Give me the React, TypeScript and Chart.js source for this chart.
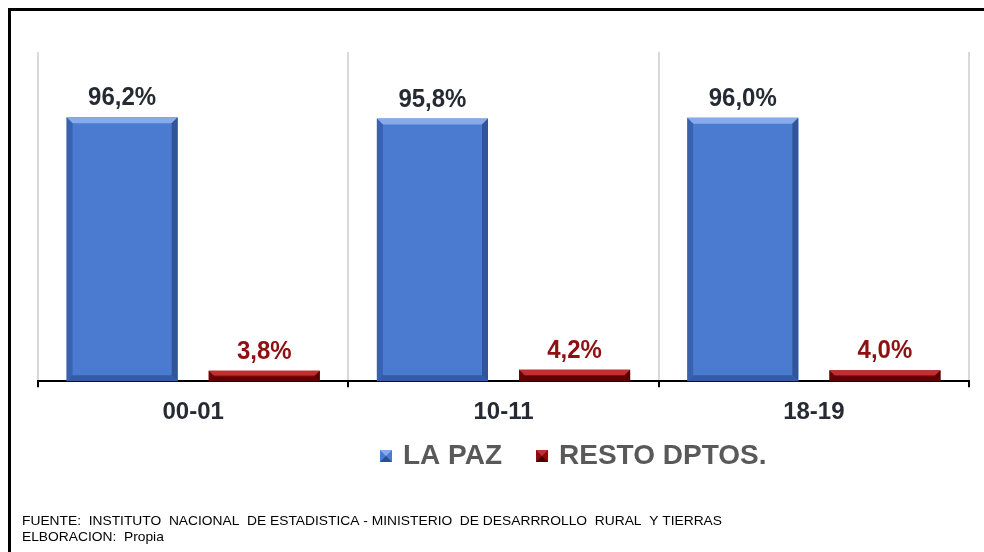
import React, { useEffect, useRef } from "react";
import { Chart, registerables } from "chart.js";

Chart.register(...registerables);

const categories = ["00-01", "10-11", "18-19"];
const laPaz = [96.2, 95.8, 96.0];
const resto = [3.8, 4.2, 4.0];
const seriesNames = ["LA PAZ", "RESTO DPTOS."];
const footerLines = [
  "FUENTE:  INSTITUTO  NACIONAL  DE ESTADISTICA - MINISTERIO  DE DESARRROLLO  RURAL  Y TIERRAS",
  "ELBORACION:  Propia",
];

const palette = [
  { main: "#4a7bd0", light: "#86aaea", dark: "#2b4f92", label: "#262b33" },
  { main: "#8c0a0a", light: "#c03030", dark: "#4a0000", label: "#8e1010" },
];

const bevelPlugin = {
  id: "bevel",
  afterDatasetsDraw(chart: any) {
    const ctx = chart.ctx;
    chart.data.datasets.forEach((ds: any, di: number) => {
      const meta = chart.getDatasetMeta(di);
      const col = palette[di];
      meta.data.forEach((bar: any, idx: number) => {
        const { x, y, base, width } = bar.getProps(["x", "y", "base", "width"], true);
        const l = x - width / 2;
        const r = x + width / 2;
        const t = y;
        const b = base;
        const h = b - t;
        const s = Math.min(6, h / 2.2);
        ctx.save();
        ctx.fillStyle = col.light;
        ctx.beginPath();
        ctx.moveTo(l, t);
        ctx.lineTo(r, t);
        ctx.lineTo(r - s, t + s);
        ctx.lineTo(l + s, t + s);
        ctx.closePath();
        ctx.fill();
        ctx.globalAlpha = 0.55;
        ctx.fillStyle = col.dark;
        ctx.beginPath();
        ctx.moveTo(l, t);
        ctx.lineTo(l + s, t + s);
        ctx.lineTo(l + s, b - s);
        ctx.lineTo(l, b);
        ctx.closePath();
        ctx.fill();
        ctx.globalAlpha = 0.85;
        ctx.beginPath();
        ctx.moveTo(r, t);
        ctx.lineTo(r - s, t + s);
        ctx.lineTo(r - s, b - s);
        ctx.lineTo(r, b);
        ctx.closePath();
        ctx.fill();
        ctx.globalAlpha = 0.7;
        ctx.beginPath();
        ctx.moveTo(l, b);
        ctx.lineTo(l + s, b - s);
        ctx.lineTo(r - s, b - s);
        ctx.lineTo(r, b);
        ctx.closePath();
        ctx.fill();
        ctx.restore();
        const v = ds.data[idx];
        ctx.save();
        ctx.font = 'bold 24px "Liberation Sans", Arial, sans-serif';
        ctx.fillStyle = col.label;
        ctx.textAlign = "center";
        ctx.textBaseline = "middle";
        ctx.translate(x, t - 19);
        ctx.scale(1, 1.08);
        ctx.fillText(Number(v).toFixed(1).replace(".", ",") + "%", 0, 0);
        ctx.restore();
      });
    });
  },
};

const legendFooterPlugin = {
  id: "legendFooter",
  afterDraw(chart: any) {
    const ctx = chart.ctx;
    ctx.save();
    ctx.font = 'bold 28px "Liberation Sans", Arial, sans-serif';
    ctx.textBaseline = "middle";
    ctx.textAlign = "left";
    const cy = 456;
    let x = 380;
    chart.data.datasets.forEach((ds: any, di: number) => {
      const col = palette[di];
      const bs = 12;
      const by = cy - bs / 2;
      ctx.fillStyle = col.main;
      ctx.fillRect(x, by, bs, bs);
      ctx.fillStyle = col.light;
      ctx.beginPath();
      ctx.moveTo(x, by);
      ctx.lineTo(x + bs, by);
      ctx.lineTo(x + bs / 2, by + bs / 2);
      ctx.closePath();
      ctx.fill();
      ctx.fillStyle = col.dark;
      ctx.beginPath();
      ctx.moveTo(x, by + bs);
      ctx.lineTo(x + bs, by + bs);
      ctx.lineTo(x + bs / 2, by + bs / 2);
      ctx.closePath();
      ctx.fill();
      ctx.fillStyle = "#595959";
      const tx = x + 23;
      ctx.fillText(ds.label, tx, cy);
      x = tx + ctx.measureText(ds.label).width + 34;
    });
    ctx.font = '13px "Liberation Sans Narrow", "Arial Narrow", "Liberation Sans", Arial, sans-serif';
    ctx.fillStyle = "#000000";
    ctx.textBaseline = "alphabetic";
    const w0 = ctx.measureText(footerLines[0]).width;
    const sx = 700 / w0;
    ctx.save();
    ctx.translate(22, 0);
    ctx.scale(sx, 1);
    ctx.fillText(footerLines[0], 0, 525);
    ctx.fillText(footerLines[1], 0, 541);
    ctx.restore();
    ctx.restore();
  },
};

export default function App() {
  const ref = useRef<HTMLCanvasElement>(null);
  useEffect(() => {
    if (!ref.current) return;
    const chart = new Chart(ref.current, {
      type: "bar",
      data: {
        labels: categories,
        datasets: [
          {
            label: seriesNames[0],
            data: laPaz,
            backgroundColor: palette[0].main,
            categoryPercentage: 0.916,
            barPercentage: 0.782,
          },
          {
            label: seriesNames[1],
            data: resto,
            backgroundColor: palette[1].main,
            categoryPercentage: 0.916,
            barPercentage: 0.782,
          },
        ],
      },
      options: {
        responsive: false,
        animation: false,
        devicePixelRatio: 1,
        layout: { padding: { left: 38, right: 15, top: 52, bottom: 114 } },
        plugins: {
          legend: { display: false },
          tooltip: { enabled: false },
          title: { display: false },
        },
        scales: {
          x: {
            grid: {
              display: true,
              offset: true,
              color: "#d9d9d9",
              lineWidth: 2,
              tickColor: "#000000",
              tickLength: 6,
              tickWidth: 2,
            },
            border: { display: true, color: "#000000", width: 2 },
            ticks: {
              padding: 11,
              color: "#262b33",
              font: { family: '"Liberation Sans", Arial, sans-serif', size: 24, weight: "bold" },
            },
          },
          y: {
            display: false,
            min: 0,
            max: 120,
          },
        },
      },
      plugins: [bevelPlugin, legendFooterPlugin],
    } as any);
    return () => chart.destroy();
  }, []);
  return (
    <div style={{ position: "fixed", left: 0, top: 0, width: 984, height: 552, background: "#fff", overflow: "hidden" }}>
      <div
        style={{
          position: "absolute",
          left: 8,
          top: 8,
          width: 1100,
          height: 700,
          borderTop: "3px solid #000",
          borderLeft: "3px solid #000",
          boxSizing: "border-box",
        }}
      />
      <canvas ref={ref} width={984} height={552} style={{ position: "absolute", left: 0, top: 0, width: 984, height: 552 }} />
    </div>
  );
}
